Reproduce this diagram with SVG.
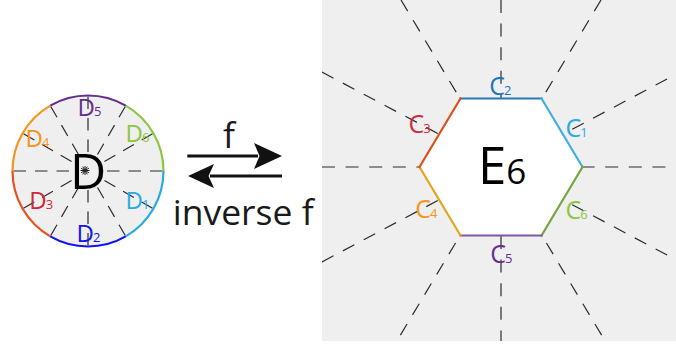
<svg xmlns="http://www.w3.org/2000/svg" width="676" height="348" viewBox="0 0 676 348">
<defs>
<style>
.t{font-family:"Open Sans","Liberation Sans",sans-serif;}
.ray{stroke:#2b2b2b;stroke-width:1.2;fill:none;}
.dray{stroke-dasharray:12.5 9;}
.hray{stroke-dasharray:13 10.6;}
.arc{fill:none;stroke-width:2.2;}
.edge{fill:none;stroke-width:2.2;stroke-linecap:square;}
.lbl{font-size:24px;}
.clb{font-size:25px;}
.sub{font-size:13px;}
.txt{fill:#1a1a1a;font-size:35.5px;}
.arr{stroke:#111;stroke-width:3;fill:none;}
.head{fill:#111;}
</style>
<clipPath id="panelClip"><rect x="322" y="0" width="354" height="341"/></clipPath>
</defs>
<rect width="676" height="348" fill="#ffffff"/>

<g id="disk">
<circle cx="88" cy="171" r="75.5" fill="#efefef"/>
<g class="ray dray">
<line x1="107" y1="171" x2="164" y2="171"/>
<line x1="104.45" y1="161.5" x2="153.8" y2="133"/>
<line x1="97.5" y1="154.55" x2="126" y2="105.2"/>
<line x1="88" y1="152" x2="88" y2="95"/>
<line x1="78.5" y1="154.55" x2="50" y2="105.2"/>
<line x1="71.55" y1="161.5" x2="22.2" y2="133"/>
<line x1="69" y1="171" x2="12" y2="171"/>
<line x1="71.55" y1="180.5" x2="22.2" y2="209"/>
<line x1="78.5" y1="187.45" x2="50" y2="236.8"/>
<line x1="88" y1="190" x2="88" y2="247"/>
<line x1="97.5" y1="187.45" x2="126" y2="236.8"/>
<line x1="104.45" y1="180.5" x2="153.8" y2="209"/>
</g>
<path class="arc" stroke="#8dc63f" d="M163.5,171 A75.5,75.5 0 0 0 125.75,105.62"/>
<path class="arc" stroke="#662d91" d="M125.75,105.62 A75.5,75.5 0 0 0 50.25,105.62"/>
<path class="arc" stroke="#f7941d" d="M50.25,105.62 A75.5,75.5 0 0 0 12.5,171"/>
<path class="arc" stroke="#e5531f" d="M12.5,171 A75.5,75.5 0 0 0 50.25,236.38"/>
<path class="arc" stroke="#1414f0" d="M50.25,236.38 A75.5,75.5 0 0 0 125.75,236.38"/>
<path class="arc" stroke="#29abe2" d="M125.75,236.38 A75.5,75.5 0 0 0 163.5,171"/>
<g stroke="#222" stroke-width="1">
<line x1="80.5" y1="170.5" x2="89.5" y2="170.5"/>
<line x1="81.1" y1="172.75" x2="88.9" y2="168.25"/>
<line x1="82.75" y1="174.4" x2="87.25" y2="166.6"/>
<line x1="85" y1="166" x2="85" y2="175"/>
<line x1="82.75" y1="166.6" x2="87.25" y2="174.4"/>
<line x1="81.1" y1="168.25" x2="88.9" y2="172.75"/>
</g>
<text class="t" x="70" y="189" font-size="50" fill="#000">D</text>
<text class="t lbl" x="77.6" y="115.7" fill="#662d91">D<tspan class="sub" dx="-1">5</tspan></text>
<text class="t lbl" x="125.6" y="142" fill="#8dc63f">D<tspan class="sub" dx="-1">6</tspan></text>
<text class="t lbl" x="25.6" y="146.5" fill="#f7941d">D<tspan class="sub" dx="-1">4</tspan></text>
<text class="t lbl" x="29.3" y="209" fill="#d0283a">D<tspan class="sub" dx="-1">3</tspan></text>
<text class="t lbl" x="125.6" y="209" fill="#29abe2">D<tspan class="sub" dx="-1">1</tspan></text>
<text class="t lbl" x="76.6" y="241.7" fill="#1414f0">D<tspan class="sub" dx="-1">2</tspan></text>
</g>

<g id="connectors">
<g id="arrow-f">
<line class="arr" x1="187.3" y1="156" x2="258" y2="156"/>
<path class="head" d="M282,156 L254,143 L259.5,156 L254,169 Z"/>
<text class="t txt" x="223" y="148.3">f</text>
</g>
<g id="arrow-inverse-f">
<line class="arr" x1="282" y1="176" x2="210" y2="176"/>
<path class="head" d="M188,176 L214,164 L208.5,176 L214,188 Z"/>
<text class="t txt" x="172.7" y="225.3">inverse f</text>
</g>
</g>

<g id="hexagon-region">
<rect x="322" y="0" width="354" height="341" fill="#efefef"/>
<g class="ray hray" clip-path="url(#panelClip)">
<line x1="322" y1="167" x2="676" y2="167"/>
<line x1="501" y1="0" x2="501" y2="341"/>
<line x1="401" y1="0" x2="605.1" y2="341"/>
<line x1="601" y1="0" x2="396.9" y2="341"/>
<line x1="322" y1="72.1" x2="676" y2="259.75"/>
<line x1="322" y1="261.9" x2="676" y2="74.25"/>
</g>
<g id="hexagon">
<polygon points="460.5,98.5 541.5,98.5 582.5,167 541.5,235.5 460.5,235.5 419.5,167" fill="#ffffff"/>
<line class="edge" stroke="#2878b8" x1="460.5" y1="98.5" x2="541.5" y2="98.5"/>
<line class="edge" stroke="#3fb0e0" x1="541.5" y1="98.5" x2="582.5" y2="167"/>
<line class="edge" stroke="#72a83a" x1="582.5" y1="167" x2="541.5" y2="235.5"/>
<line class="edge" stroke="#7f58a3" x1="541.5" y1="235.5" x2="460.5" y2="235.5"/>
<line class="edge" stroke="#e3a51e" x1="460.5" y1="235.5" x2="419.5" y2="167"/>
<line class="edge" stroke="#d9531e" x1="419.5" y1="167" x2="460.5" y2="98.5"/>
<text class="t" x="478" y="183.5" fill="#000"><tspan font-size="51">E</tspan><tspan font-size="35">6</tspan></text>
</g>
<text class="t clb" x="565.5" y="137" fill="#29abe2">C<tspan class="sub" dx="-1">1</tspan></text>
<text class="t clb" x="489.2" y="95" fill="#1c75bc">C<tspan class="sub" dx="-1">2</tspan></text>
<text class="t clb" x="408.5" y="133" fill="#cf2e3c">C<tspan class="sub" dx="-1">3</tspan></text>
<text class="t clb" x="415.2" y="218" fill="#f7941d">C<tspan class="sub" dx="-1">4</tspan></text>
<text class="t clb" x="490.2" y="263" fill="#662d91">C<tspan class="sub" dx="-1">5</tspan></text>
<text class="t clb" x="565.5" y="219" fill="#8dc63f">C<tspan class="sub" dx="-1">6</tspan></text>
</g>
</svg>
